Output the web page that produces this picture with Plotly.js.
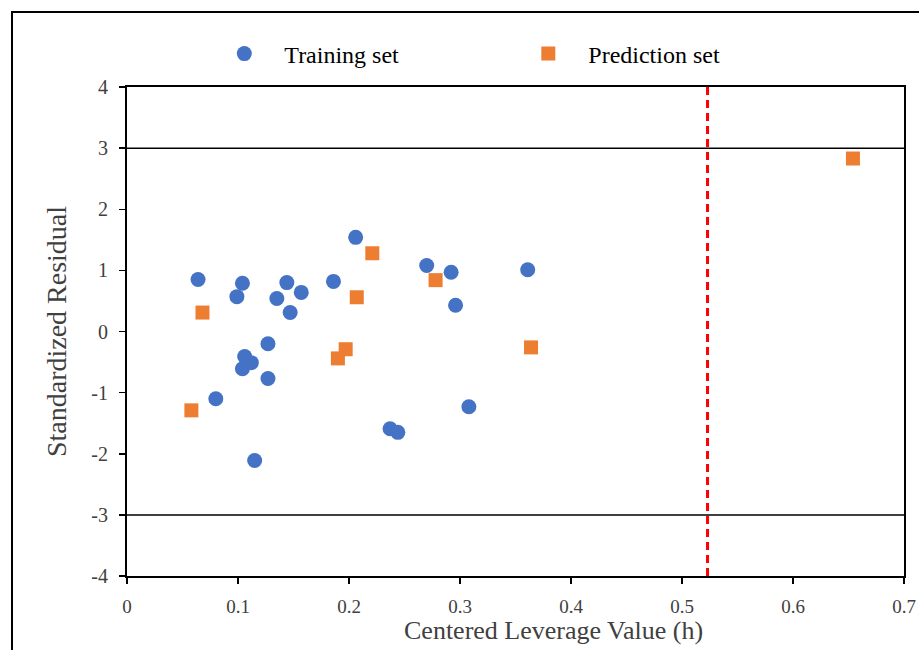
<!DOCTYPE html>
<html>
<head>
<meta charset="utf-8">
<script src="https://cdn.plot.ly/plotly-3.0.1.min.js"></script>
<style>
  html, body { margin: 0; padding: 0; background: #ffffff; }
  #chart { width: 919px; height: 650px; }
</style>
</head>
<body>
<div id="chart"></div>
<script>
// Training set (blue circles)
const trainH = [0.064, 0.104, 0.099, 0.135, 0.144, 0.147, 0.157, 0.186, 0.206, 0.270, 0.292, 0.296, 0.361,
                0.127, 0.106, 0.112, 0.104, 0.127, 0.080, 0.115, 0.308, 0.237, 0.244];
const trainR = [0.85, 0.79, 0.57, 0.54, 0.80, 0.31, 0.64, 0.82, 1.54, 1.08, 0.97, 0.43, 1.01,
                -0.20, -0.41, -0.51, -0.61, -0.77, -1.10, -2.11, -1.23, -1.59, -1.65];
// Prediction set (orange squares)
const predH = [0.058, 0.068, 0.190, 0.197, 0.207, 0.221, 0.278, 0.364, 0.654];
const predR = [-1.29, 0.31, -0.44, -0.29, 0.56, 1.28, 0.84, -0.26, 2.83];
// Reference lines
const warningLeverage = 0.523;
const residualLimits = [3, -3];
const xTicks = [0, 0.1, 0.2, 0.3, 0.4, 0.5, 0.6, 0.7];
const xTickText = ['0', '0.1', '0.2', '0.3', '0.4', '0.5', '0.6', '0.7'];
const yTicks = [-4, -3, -2, -1, 0, 1, 2, 3, 4];
const yTickText = ['-4', '-3', '-2', '-1', '0', '1', '2', '3', '4'];
const xTitle = 'Centered Leverage Value (h)';
const yTitle = 'Standardized Residual';

const FONT = 'Liberation Serif, Times New Roman, serif';
const TXT = '#404040';

const traces = [
  { x: trainH, y: trainR, type: 'scatter', mode: 'markers', name: 'Training set',
    marker: { symbol: 'circle', size: 15, color: '#4472C4' }, cliponaxis: false },
  { x: predH, y: predR, type: 'scatter', mode: 'markers', name: 'Prediction set',
    marker: { symbol: 'square', size: 14, color: '#ED7D31' }, cliponaxis: false }
];

const shapes = [];
residualLimits.forEach(v => shapes.push({
  type: 'line', xref: 'paper', yref: 'y', x0: 0, x1: 1, y0: v, y1: v,
  line: { color: '#000000', width: 1.5 }
}));
shapes.push({
  type: 'line', xref: 'x', yref: 'y', x0: warningLeverage, x1: warningLeverage, y0: -4, y1: 4,
  line: { color: '#FF0000', width: 3, dash: '8px,5px' }
});
// outer chart frame
shapes.push({
  type: 'rect', xref: 'paper', yref: 'paper', x0: -0.148, x1: 1.2, y0: -0.3, y1: 1.1534,
  line: { color: '#000000', width: 2 }, fillcolor: 'rgba(0,0,0,0)', layer: 'below'
});

const layout = {
  width: 919, height: 650,
  margin: { l: 127, r: 15, t: 87, b: 74 },
  paper_bgcolor: '#ffffff', plot_bgcolor: '#ffffff',
  font: { family: FONT, color: TXT, size: 20 },
  showlegend: true,
  legend: {
    orientation: 'h', x: 0.0995, xanchor: 'left', y: 1.0675, yanchor: 'middle',
    font: { family: FONT, size: 24, color: '#000000' },
    itemwidth: 70, entrywidth: 219, bgcolor: 'rgba(0,0,0,0)'
  },
  hovermode: false,
  xaxis: {
    range: [0, 0.7], tickvals: xTicks, ticktext: xTickText,
    showgrid: false, zeroline: false,
    showline: true, linecolor: '#000000', linewidth: 2, mirror: true,
    ticks: 'outside', ticklen: 6, tickwidth: 1.5, tickcolor: '#000000',
    ticklabelstandoff: 6,
    tickfont: { family: FONT, size: 19, color: TXT }
  },
  yaxis: {
    range: [-4, 4], tickvals: yTicks, ticktext: yTickText,
    showgrid: false, zeroline: false,
    showline: true, linecolor: '#000000', linewidth: 2, mirror: true,
    ticks: 'outside', ticklen: 6, tickwidth: 1.5, tickcolor: '#000000',
    ticklabelstandoff: 7,
    tickfont: { family: FONT, size: 20, color: TXT },
    title: { text: yTitle, font: { family: FONT, size: 28, color: TXT }, standoff: 17 }
  },
  annotations: [{
    text: xTitle, xref: 'paper', yref: 'paper', x: 0.5495, y: -0.1452,
    xanchor: 'center', yanchor: 'bottom', showarrow: false,
    font: { family: FONT, size: 26, color: TXT }
  }],
  shapes: shapes
};

Plotly.newPlot('chart', traces, layout, { displayModeBar: false, staticPlot: true });
</script>
</body>
</html>
